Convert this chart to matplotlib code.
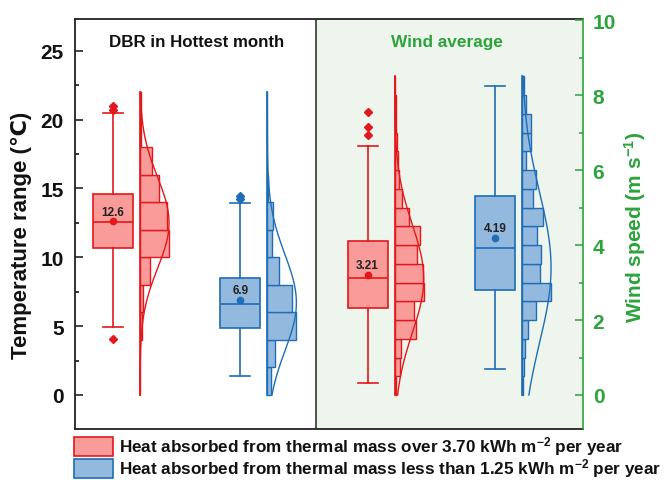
import numpy as np
import matplotlib
matplotlib.use("Agg")
import matplotlib.pyplot as plt
from matplotlib.patches import Rectangle
from matplotlib.ticker import MultipleLocator

plt.rcParams["font.family"] = ["Liberation Sans", "DejaVu Sans"]
plt.rcParams["font.weight"] = "bold"
plt.rcParams["axes.labelweight"] = "bold"
plt.rcParams["mathtext.fontset"] = "custom"
plt.rcParams["mathtext.rm"] = "Liberation Sans:bold"
plt.rcParams["mathtext.default"] = "rm"

# box statistics (DBR in degC, wind in m/s)
dbr_high = {"med": 12.54, "q1": 10.70, "q3": 14.62, "whislo": 4.96, "whishi": 20.46,
            "mean": 12.6, "fliers": [4.1, 20.7, 21.0]}
dbr_low = {"med": 6.59, "q1": 4.84, "q3": 8.52, "whislo": 1.40, "whishi": 13.94,
           "mean": 6.9, "fliers": [14.25, 14.45]}
wind_high = {"med": 3.11, "q1": 2.31, "q3": 4.12, "whislo": 0.31, "whishi": 6.63,
             "mean": 3.21, "fliers": [6.93, 7.14, 7.54]}
wind_low = {"med": 3.91, "q1": 2.81, "q3": 5.31, "whislo": 0.69, "whishi": 8.25,
            "mean": 4.19, "fliers": []}

# histogram bins and counts
dbr_edges = np.arange(0, 24, 2)
dbr_high_counts = [0, 0, 2, 4, 12, 35, 33, 23, 14, 1, 1]
dbr_low_counts = [4, 9, 35, 30, 14, 6, 7, 1, 0, 0, 0]
wind_edges = np.arange(0, 9.0, 0.5)
wind_high_counts = [1, 5, 6, 21, 19, 29, 28, 22, 25, 14, 7, 4, 3, 2, 1, 1, 0]
wind_low_counts = [1, 2, 3, 6, 14, 29, 18, 19, 15, 21, 11, 14, 4, 9, 9, 4, 2]

# normal fit (mu, sd) for the distribution curves
dbr_high_fit = (12.5, 3.3)
dbr_low_fit = (6.7, 3.5)
wind_high_fit = (3.1, 1.45)
wind_low_fit = (3.4, 2.0)

labels = ["Heat absorbed from thermal mass over 3.70 kWh m$^{-2}$ per year",
          "Heat absorbed from thermal mass less than 1.25 kWh m$^{-2}$ per year"]

red_edge, red_face = "#e3181d", "#f99b99"
blue_edge, blue_face = "#1f6db4", "#94b9de"
green = "#2ca33c"

box_w = 0.314
hist_off = 0.212
hist_w = 0.228


def draw_group(axis, pos, stats, edges, counts, fit, edge, face, fmt):
    axis.bxp([stats], positions=[pos], widths=box_w, patch_artist=True,
             showmeans=True,
             boxprops=dict(facecolor=face, edgecolor=edge, linewidth=1.2),
             medianprops=dict(color=edge, linewidth=1.2),
             whiskerprops=dict(color=edge, linewidth=1.2),
             capprops=dict(color=edge, linewidth=1.2),
             flierprops=dict(marker="D", markerfacecolor=edge, markeredgecolor=edge,
                             markersize=4),
             meanprops=dict(marker="o", markerfacecolor=edge, markeredgecolor=edge,
                            markersize=4.5))
    axis.annotate(fmt.format(stats["mean"]), (pos, stats["mean"]),
                  xytext=(0, 7), textcoords="offset points", ha="center",
                  va="center", fontsize=8.5, fontweight="bold", color="#222222")

    counts = np.asarray(counts, dtype=float)
    x0 = pos + hist_off
    scale = hist_w / counts.max()
    centers = (edges[:-1] + edges[1:]) / 2
    bw = edges[1] - edges[0]
    axis.barh(centers, counts * scale, height=bw, left=x0, color=face,
              edgecolor=edge, linewidth=1.0)
    axis.plot([x0, x0], [edges[0], edges[-1]], color=edge, lw=1.2)

    mu, sd = fit
    yy = np.linspace(edges[0], edges[-1], 300)
    dens = np.exp(-(yy - mu) ** 2 / (2 * sd ** 2))
    axis.plot(x0 + dens / dens.max() * hist_w, yy, color=edge, lw=1.0)


fig = plt.figure(figsize=(6.64, 4.81), dpi=100)
ax = fig.add_axes([75 / 664, 51 / 481, 508 / 664, 410 / 481])
ax2 = ax.twinx()

split = 2.595
ax.set_xlim(0.7015, 4.691)
ax.set_ylim(-2.47, 27.3)
ax2.set_ylim(-0.907, 10.03)

ax.axvspan(split, 4.691, color="#eef5ec", zorder=0, lw=0)
ax.axvline(split, color="#333333", lw=1.2)

draw_group(ax, 1, dbr_high, dbr_edges, dbr_high_counts, dbr_high_fit,
           red_edge, red_face, "{:.1f}")
draw_group(ax, 2, dbr_low, dbr_edges, dbr_low_counts, dbr_low_fit,
           blue_edge, blue_face, "{:.1f}")
draw_group(ax2, 3, wind_high, wind_edges, wind_high_counts, wind_high_fit,
           red_edge, red_face, "{:.2f}")
draw_group(ax2, 4, wind_low, wind_edges, wind_low_counts, wind_low_fit,
           blue_edge, blue_face, "{:.2f}")

ax.set_xticks([])
ax2.set_xticks([])
ax.set_yticks(range(0, 26, 5))
ax.yaxis.set_minor_locator(MultipleLocator(2.5))
ax2.set_yticks(range(0, 11, 2))
ax2.yaxis.set_minor_locator(MultipleLocator(1))

ax.tick_params(axis="y", which="major", direction="in", length=6, width=1.1,
               labelsize=15, pad=8, colors="#111111")
ax.tick_params(axis="y", which="minor", direction="in", length=3, width=1.1)
ax2.tick_params(axis="y", which="major", direction="in", length=6, width=1.1,
                labelsize=15, pad=7, colors=green)
ax2.tick_params(axis="y", which="minor", direction="in", length=3, width=1.1,
                colors=green)
for lbl in ax.get_yticklabels() + ax2.get_yticklabels():
    lbl.set_fontweight("bold")

for name in ["left", "top", "bottom"]:
    ax.spines[name].set_color("#222222")
    ax.spines[name].set_linewidth(1.3)
ax.spines["right"].set_visible(False)
for name in ["left", "top", "bottom"]:
    ax2.spines[name].set_visible(False)
ax2.spines["right"].set_color(green)
ax2.spines["right"].set_linewidth(1.2)

ax.set_ylabel("Temperature range (℃)", fontsize=16, fontweight="bold",
              color="#111111")
ax.yaxis.set_label_coords(-0.085, 0.474)
ax2.set_ylabel("Wind speed (m s$^{-1}$)", fontsize=15, fontweight="bold",
               color=green)
ax2.yaxis.set_label_coords(1.077, 0.494)

ax.text(0.239, 0.946, "DBR in Hottest month", transform=ax.transAxes,
        ha="center", va="center", fontsize=12.2, fontweight="bold", color="#111111")
ax.text(0.732, 0.946, "Wind average", transform=ax.transAxes,
        ha="center", va="center", fontsize=12.4, fontweight="bold", color=green)

# legend under the axes
for i, (lab, edge, face) in enumerate(zip(labels, [red_edge, blue_edge],
                                          [red_face, blue_face])):
    yc = 447 + 22 * i
    fig.add_artist(Rectangle((74 / 664, 1 - (yc + 9.5) / 481), 39 / 664, 19 / 481,
                             transform=fig.transFigure, facecolor=face,
                             edgecolor=edge, lw=1.2))
    fig.text(119 / 664, 1 - yc / 481, lab, ha="left", va="center",
             fontsize=12.3, fontweight="bold", color="#111111")

fig.savefig("out.png", dpi=100)
